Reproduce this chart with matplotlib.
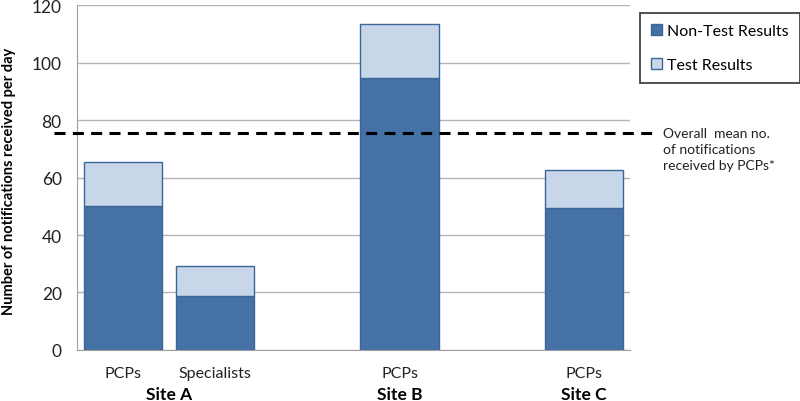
import matplotlib
matplotlib.use("Agg")
import matplotlib.pyplot as plt
import matplotlib.transforms as mtransforms
from matplotlib.patches import Patch

# data
groups = ["PCPs", "Specialists", "PCPs", "PCPs"]
sites = ["Site A", "Site B", "Site C"]
non_test = [50.2, 18.9, 94.7, 49.3]
test = [15.1, 10.2, 18.8, 13.2]
overall_mean = 75.6
yticks = [0, 20, 40, 60, 80, 100, 120]

positions = [0, 1, 3, 5]
site_centers = [0.5, 3, 5]

dark = "#4571a7"
light = "#c8d6ea"
edge = "#3b6696"
grid_col = "#b3b3b3"

plt.rcParams["font.family"] = ["Lato", "DejaVu Sans"]

fig = plt.figure(figsize=(8, 4.02), dpi=100)
ax = fig.add_axes([0.09625, 0.1269, 0.69125, 0.8581])

ax.bar(positions, non_test, width=0.85, color=dark, edgecolor=edge, linewidth=1, zorder=3)
ax.bar(positions, test, width=0.85, bottom=non_test, color=light, edgecolor=edge,
       linewidth=1, zorder=3)

ax.set_ylim(0, 120)
ax.set_xlim(-0.5, 5.5)
ax.set_yticks(yticks)
ax.set_yticklabels([str(t) for t in yticks], fontsize=12.5, color="#222222")
ax.set_xticks([])
ax.tick_params(length=0, pad=11)
ax.grid(axis="y", color=grid_col, linewidth=1, zorder=0)
for s in ["top", "right"]:
    ax.spines[s].set_visible(False)
for s in ["left", "bottom"]:
    ax.spines[s].set_color("#a0a0a0")
    ax.spines[s].set_zorder(4)

# category and site labels below the axis, positioned in figure pixels
blend = mtransforms.blended_transform_factory(ax.transData, fig.transFigure)
for name, xc in zip(groups, positions):
    ax.text(xc, 1 - 374 / 402, name, transform=blend, ha="center", va="center",
            fontsize=11.5, color="#222222")
for name, xc in zip(sites, site_centers):
    ax.text(xc, 1 - 395 / 402, name, transform=blend, ha="center", va="center",
            fontsize=12.5, fontweight="bold")

fig.text(9 / 800, 1 - 181 / 402, "Number of notifications received per day", rotation=90,
         ha="center", va="center", fontsize=10.5, fontweight="bold")

# dashed overall mean line, running outside the axes on both sides
ax.axhline(overall_mean, xmin=-0.042, xmax=1.04, color="black", linestyle=(0, (3.6, 2.4)),
           linewidth=2.2, clip_on=False, zorder=5)
fig.text(0.829, 1 - 150 / 402, "Overall  mean no.\nof notifications\nreceived by PCPs*",
         fontsize=10, va="center", ha="left", linespacing=1.4, color="#222222")

handles = [Patch(facecolor=dark, edgecolor=edge, label="Non-Test Results"),
           Patch(facecolor=light, edgecolor=edge, label="Test Results")]
leg = fig.legend(handles=handles, loc="upper left", bbox_to_anchor=(640 / 800, 1 - 14 / 402),
                 fontsize=11.5, frameon=True, fancybox=False, edgecolor="black",
                 handlelength=0.7, handleheight=0.7, handletextpad=0.3,
                 labelspacing=1.2, borderpad=0.7, borderaxespad=0)
leg.get_frame().set_linewidth(1.2)

fig.savefig("out.png", dpi=100)
